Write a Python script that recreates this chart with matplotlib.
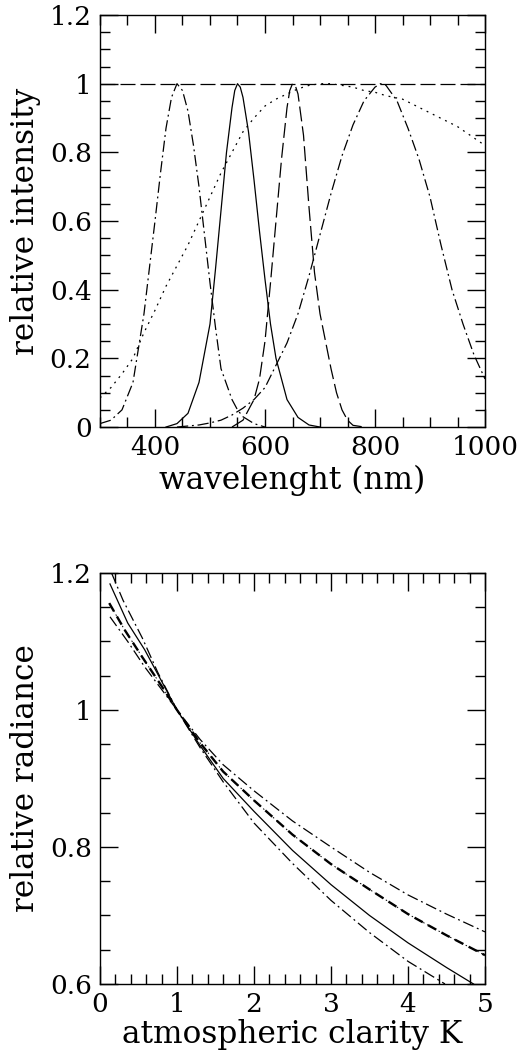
import numpy as np
import matplotlib
matplotlib.use('Agg')
import matplotlib.pyplot as plt
from matplotlib.ticker import MultipleLocator, FormatStrFormatter

plt.rcParams['font.family'] = ['DejaVu Serif']
plt.rcParams['font.size'] = 19
plt.rcParams['axes.labelsize'] = 22.5

# --- top panel: filter / sensitivity curves ---
wl_blue = [300, 320, 340, 360, 380, 400, 410, 420, 430, 440, 450, 460, 470, 480, 490, 500, 510, 520, 540, 550, 560, 580, 600]
int_blue = [0.01, 0.02, 0.05, 0.13, 0.33, 0.6, 0.74, 0.87, 0.96, 1.0, 0.98, 0.92, 0.82, 0.7, 0.56, 0.42, 0.29, 0.17, 0.08, 0.05, 0.03, 0.01, 0.0]

wl_green = [420, 440, 460, 480, 500, 510, 520, 530, 540, 545, 550, 555, 560, 570, 580, 590, 600, 610, 620, 640, 660, 680, 700]
int_green = [0.0, 0.01, 0.04, 0.13, 0.3, 0.46, 0.63, 0.8, 0.93, 0.98, 1.0, 0.99, 0.96, 0.86, 0.72, 0.57, 0.43, 0.3, 0.2, 0.08, 0.028, 0.006, 0.0]

wl_red = [540, 560, 580, 590, 600, 610, 620, 630, 640, 645, 650, 655, 660, 670, 680, 690, 700, 710, 720, 730, 740, 750, 760, 780]
int_red = [0.0, 0.02, 0.08, 0.14, 0.25, 0.42, 0.6, 0.78, 0.93, 0.98, 1.0, 0.995, 0.97, 0.85, 0.64, 0.45, 0.33, 0.25, 0.17, 0.1, 0.05, 0.02, 0.005, 0.0]

wl_ir = [440, 460, 480, 500, 520, 540, 560, 580, 600, 620, 640, 660, 680, 700, 720, 740, 760,
         780, 800, 810, 820, 840, 860, 880, 900, 920, 940, 960, 980, 1000]
int_ir = [0.0, 0.003, 0.006, 0.012, 0.02, 0.035, 0.055, 0.08, 0.115, 0.18, 0.245, 0.33, 0.44, 0.56, 0.68, 0.79, 0.88,
          0.95, 0.99, 1.0, 0.995, 0.95, 0.87, 0.78, 0.67, 0.53, 0.4, 0.3, 0.21, 0.14]

wl_broad = [300, 320, 340, 360, 380, 400, 420, 440, 460, 480, 500, 520, 540, 560, 580, 600, 620, 640, 660, 680,
            700, 720, 740, 760, 780, 800, 820, 850, 900, 950, 1000]
int_broad = [0.085, 0.115, 0.155, 0.2, 0.275, 0.34, 0.41, 0.47, 0.53, 0.6, 0.67, 0.74, 0.8, 0.86, 0.9, 0.935, 0.955,
             0.97, 0.985, 0.995, 1.0, 1.0, 0.995, 0.99, 0.98, 0.975, 0.965, 0.955, 0.915, 0.875, 0.82]

wl_flat = [300, 1000]
int_flat = [1.0, 1.0]

# --- bottom panel: relative radiance vs clarity ---
k_a = [0.15, 0.3, 0.55, 0.75, 1.0, 1.3, 1.6, 2.0, 2.5, 3.0, 3.5, 4.0, 4.48]
rad_a = [1.2, 1.16, 1.105, 1.055, 1.0, 0.945, 0.895, 0.835, 0.776, 0.722, 0.675, 0.633, 0.6]

k_b = [0.13, 0.36, 0.58, 0.8, 1.0, 1.3, 1.6, 2.0, 2.5, 3.0, 3.5, 4.0, 4.5, 4.85]
rad_b = [1.184, 1.127, 1.088, 1.042, 1.0, 0.948, 0.9, 0.852, 0.795, 0.745, 0.7, 0.66, 0.624, 0.6]

k_c = [0.12, 0.32, 0.55, 0.8, 1.0, 1.3, 1.6, 2.0, 2.5, 3.0, 3.5, 4.0, 4.5, 5.0]
rad_c = [1.156, 1.117, 1.077, 1.035, 1.0, 0.952, 0.91, 0.868, 0.818, 0.775, 0.738, 0.702, 0.671, 0.642]

k_d = [0.13, 0.36, 0.58, 0.8, 1.0, 1.3, 1.6, 2.0, 2.5, 3.0, 3.5, 4.0, 4.5, 5.0]
rad_d = [1.136, 1.1, 1.063, 1.03, 1.0, 0.957, 0.92, 0.882, 0.838, 0.8, 0.763, 0.73, 0.702, 0.676]

dashdot = (0, (9, 3, 1.5, 3))
longdash = (0, (12, 4))
dotted = (0, (1.5, 4))
lw = 0.9

fig = plt.figure(figsize=(5.31, 10.5), dpi=100)
ax1 = fig.add_axes([0.1883, 0.5933, 0.7251, 0.3924])
ax2 = fig.add_axes([0.1883, 0.0629, 0.7251, 0.3914])

ax1.plot(wl_flat, int_flat, color='k', lw=lw, linestyle=longdash)
ax1.plot(wl_blue, int_blue, color='k', lw=lw, linestyle=dashdot)
ax1.plot(wl_green, int_green, color='k', lw=lw, linestyle='-')
ax1.plot(wl_red, int_red, color='k', lw=lw, linestyle=longdash)
ax1.plot(wl_ir, int_ir, color='k', lw=lw, linestyle=dashdot)
ax1.plot(wl_broad, int_broad, color='k', lw=lw, linestyle=dotted)
ax1.set_xlim(300, 1000)
ax1.set_ylim(0, 1.2)
ax1.xaxis.set_major_locator(MultipleLocator(200))
ax1.xaxis.set_minor_locator(MultipleLocator(50))
ax1.yaxis.set_major_locator(MultipleLocator(0.2))
ax1.yaxis.set_minor_locator(MultipleLocator(0.05))
ax1.yaxis.set_major_formatter(FormatStrFormatter('%g'))
ax1.set_xlabel('wavelenght (nm)', labelpad=3)
ax1.set_ylabel('relative intensity', labelpad=6)

ax2.plot(k_a, rad_a, color='k', lw=lw, linestyle=dashdot)
ax2.plot(k_b, rad_b, color='k', lw=lw, linestyle='-')
ax2.plot(k_c, rad_c, color='k', lw=1.7, linestyle=(0, (4, 2.5)))
ax2.plot(k_c, rad_c, color='k', lw=0.7, linestyle=(0, (1.5, 3)))
ax2.plot(k_d, rad_d, color='k', lw=lw, linestyle=dashdot)
ax2.set_xlim(0, 5)
ax2.set_ylim(0.6, 1.2)
ax2.xaxis.set_major_locator(MultipleLocator(1))
ax2.xaxis.set_minor_locator(MultipleLocator(0.2))
ax2.yaxis.set_major_locator(MultipleLocator(0.2))
ax2.yaxis.set_minor_locator(MultipleLocator(0.05))
ax2.yaxis.set_major_formatter(FormatStrFormatter('%g'))
ax2.xaxis.set_major_formatter(FormatStrFormatter('%g'))
ax2.set_xlabel('atmospheric clarity K', labelpad=1)
ax2.set_ylabel('relative radiance', labelpad=6)

for ax in (ax1, ax2):
    for s in ax.spines.values():
        s.set_linewidth(1.0)
    ax.tick_params(which='both', direction='in', top=True, right=True, width=1.0)
    ax.tick_params(which='major', length=13, pad=6)
    ax.tick_params(which='minor', length=7)

fig.savefig('out.png', dpi=100)
